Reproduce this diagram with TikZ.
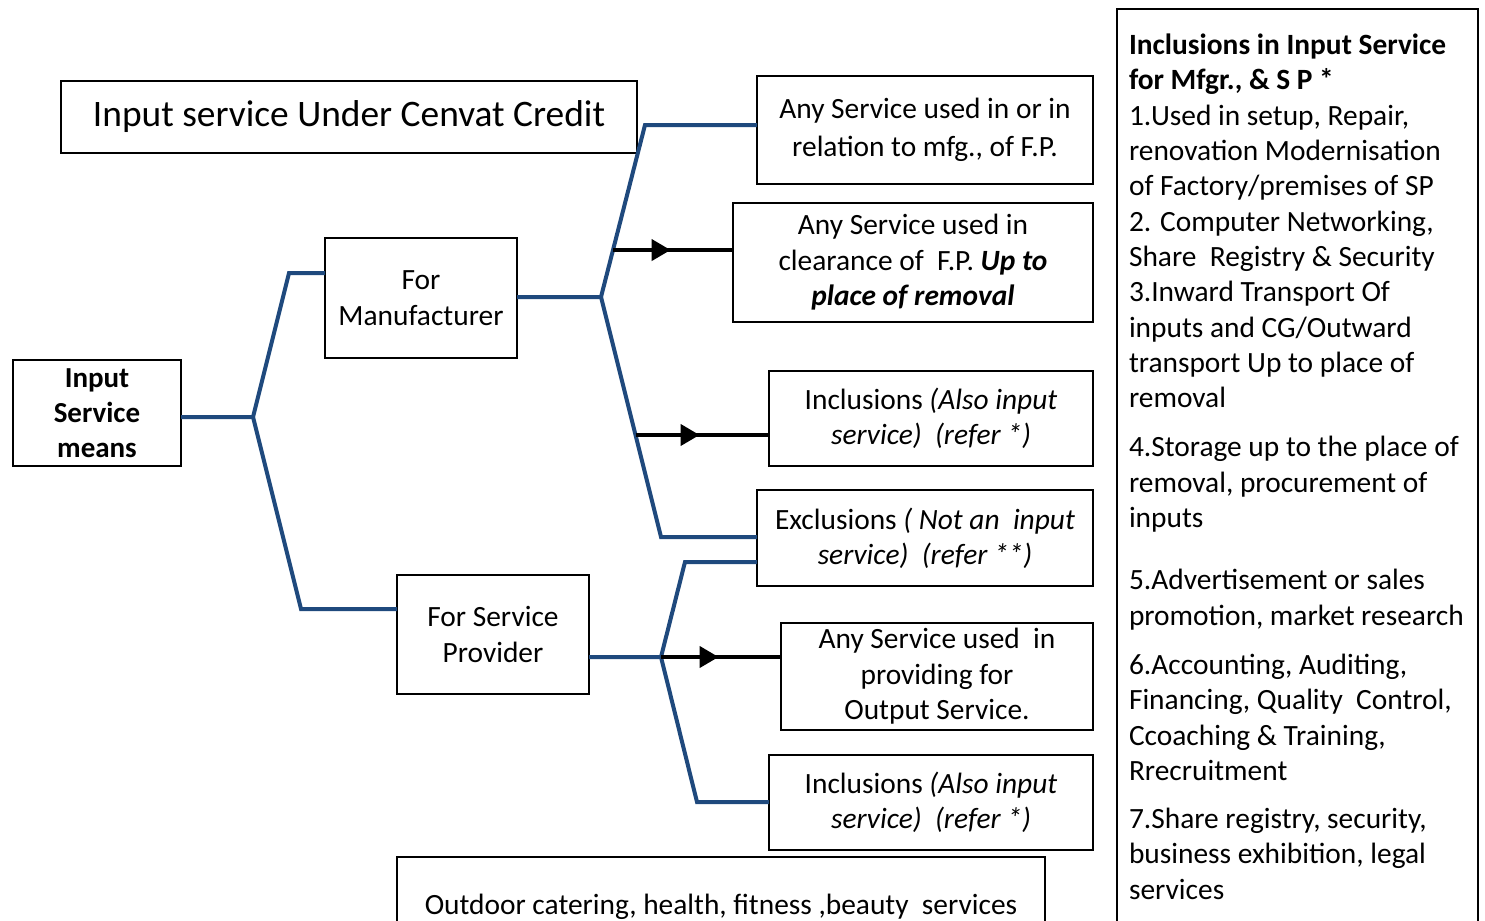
\documentclass[tikz,border=0pt]{standalone}
\usepackage{fontspec}
\setmainfont{Carlito}
\usetikzlibrary{positioning,arrows.meta,decorations.markings,calc}
\definecolor{branchblue}{RGB}{31,73,125}
\tikzset{
	box/.style={draw, line width=1pt, inner sep=0pt, outer sep=0pt, align=center, font=\fontsize{14.7}{17.7}\selectfont},
	branch/.style={draw=branchblue, line width=2pt},
	pointer/.style={line width=2pt, decoration={markings, mark=at position 0.48 with {\arrow{Triangle[length=9.5pt,width=10.5pt]}}}, postaction={decorate}}
}
\begin{document}
\begin{tikzpicture}[x=0.5pt, y=-0.5pt]
		\useasboundingbox (0,0) rectangle (1485,921);
		%title
		\node[box, minimum width=288pt, minimum height=36pt, font=\fontsize{18.7}{22}\selectfont] (title) at (349,117) {Input service Under Cenvat Credit};
		
		%left boxes
		\node[box, minimum width=84pt, minimum height=53pt, font=\bfseries\fontsize{14.5}{17.5}\selectfont] (means) at (97,413) {Input\\Service\\means};
		\node[box, minimum width=96pt, minimum height=60pt] (fm) at (421,298) {For\\Manufacturer};
		\node[box, minimum width=96pt, minimum height=59.5pt] (fsp) at (493,634.5) {For Service\\Provider};
		
		%right boxes
		\node[box, minimum width=168pt, minimum height=54pt, font=\fontsize{14.7}{19}\selectfont] (anyA) at (925,130) {Any Service used in or in\\relation to mfg., of F.P.};
		\node[box, minimum width=180pt, minimum height=59.5pt] (clear) at (913,262.5) {Any Service used in\\clearance of~ F.P. \textbf{\textit{Up to}}\\\textbf{\textit{place of removal}}};
		\node[box, minimum width=162pt, minimum height=47.5pt] (inclM) at (931,418.5) {Inclusions \textit{(Also input}\\\textit{service)~ (refer *)}};
		\node[box, minimum width=168pt, minimum height=48pt] (excl) at (925,538) {Exclusions \textit{( Not an~ input}\\\textit{service)~ (refer **)}};
		\node[box, minimum width=156pt, minimum height=53.5pt] (outp) at (937,676.5) {Any Service used~ in\\providing for\\Output Service.};
		\node[box, minimum width=162pt, minimum height=47.5pt] (inclS) at (931,802.5) {Inclusions \textit{(Also input}\\\textit{service)~ (refer *)}};
		\node[box, minimum width=324pt, minimum height=50pt, anchor=north] (outdoor) at (721,857) {Outdoor catering, health, fitness ,beauty~ services};
		
		%inclusions list
		\node[box, anchor=north west, align=left, inner xsep=6pt, inner ysep=12.5pt] (list) at (1117,9) {\begin{minipage}[t][470pt][t]{168.5pt}\raggedright\fontsize{14.7}{17.65}\selectfont
			\textbf{Inclusions in Input Service}\\
			\textbf{for Mfgr., \& S P *}\\
			1.Used in setup, Repair,\\
			renovation Modernisation\\
			of Factory/premises of SP\\
			2. Computer Networking,\\
			Share~ Registry \& Security\\
			3.Inward Transport Of\\
			inputs and CG/Outward\\
			transport Up to place of\\
			removal\\[7pt]
			4.Storage up to the place of\\
			removal, procurement of\\
			inputs\\[13.5pt]
			5.Advertisement or sales\\
			promotion, market research\\[7pt]
			6.Accounting, Auditing,\\
			Financing, Quality~ Control,\\
			Ccoaching \& Training,\\
			Rrecruitment\\[6.5pt]
			7.Share registry, security,\\
			business exhibition, legal\\
			services
		\end{minipage}};
		
		%first fork
		\coordinate (fork1) at (253,417);
		\coordinate (up1) at (289,273);
		\coordinate (down1) at (301,609);
		\draw[branch] (means.east |- fork1) -- (fork1) -- (up1) -- (fm.west |- up1);
		\draw[branch] (fork1) -- (down1) -- (fsp.west |- down1);
		
		%second fork
		\coordinate (fork2) at (601,297);
		\coordinate (up2) at (645,125);
		\coordinate (down2) at (661,537);
		\draw[branch] (fm.east |- fork2) -- (fork2) -- (up2) -- (anyA.west |- up2);
		\draw[branch] (fork2) -- (down2) -- (excl.west |- down2);
		\coordinate (s1) at ($(fork2)!0.273!(up2)$);
		\coordinate (s2) at ($(fork2)!0.575!(down2)$);
		\draw[pointer] (s1) -- (clear.west |- s1);
		\draw[pointer] (s2) -- (inclM.west |- s2);
		
		%third fork
		\coordinate (fork3) at (661,657);
		\coordinate (up3) at (685,562);
		\coordinate (down3) at (697,802);
		\draw[branch] (fsp.east |- fork3) -- (fork3) -- (up3) -- (excl.west |- up3);
		\draw[branch] (fork3) -- (down3) -- (inclS.west |- down3);
		\draw[pointer] (fork3) -- (outp.west |- fork3);
	\end{tikzpicture}
\end{document}
